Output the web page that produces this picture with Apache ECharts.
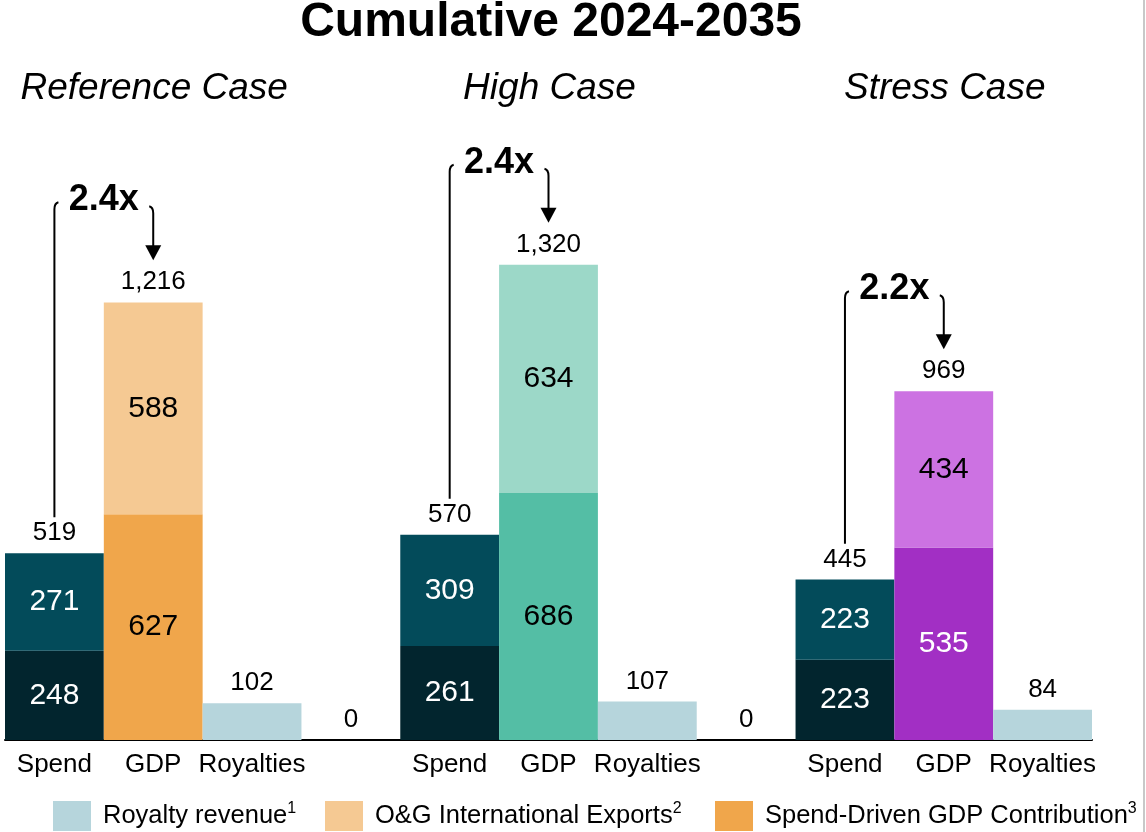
<!DOCTYPE html>
<html>
<head>
<meta charset="utf-8">
<script src="https://cdn.jsdelivr.net/npm/echarts@6/dist/echarts.min.js"></script>
<style>
  html, body { margin: 0; padding: 0; background: #fff; }
  #chart { width: 1146px; height: 832px; }
</style>
</head>
<body>
<div id="chart"></div>
<script>
// Cumulative 2024-2035 economic impact, three scenarios
const categories = ['Spend', 'GDP', 'Royalties', '', 'Spend', 'GDP', 'Royalties', '', 'Spend', 'GDP', 'Royalties'];
const caseNames = ['Reference Case', 'High Case', 'Stress Case'];
const spendBase = [248, 261, 223];
const spendUpper = [271, 309, 223];
const spendTotal = [519, 570, 445];
const gdpSpendDriven = [627, 686, 535];
const gdpExports = [588, 634, 434];
const gdpTotal = [1216, 1320, 969];
const royalties = [102, 107, 84];
const gapValues = [0, 0];
const multipliers = ['2.4x', '2.4x', '2.2x'];
const legendNames = ['Royalty revenue', 'O&G International Exports', 'Spend-Driven GDP Contribution'];
const legendNotes = ['1', '2', '3'];

const FONT = "'Liberation Sans', Arial, Helvetica, sans-serif";
const INK = '#000000';
const spendBaseColor = '#02252e';
const spendUpperColor = '#034b5a';
const royaltyColor = '#b6d5dc';
const gdpBaseColors = ['#f0a64b', '#54bea5', '#a22fc4'];
const gdpTopColors = ['#f5c993', '#9cd8c8', '#cc72e2'];
const gdpBaseLabelColors = ['#000000', '#000000', '#ffffff'];

// category slot of each bar type within case i
const spendIdx = i => 4 * i;
const gdpIdx = i => 4 * i + 1;
const royIdx = i => 4 * i + 2;
const gapIdx = [3, 7];

function emptyRow() { return categories.map(() => '-'); }
const fmt = v => Number(v).toLocaleString('en-US');

const sBase = emptyRow(), sUp = emptyRow(), gBase = emptyRow(), gTop = emptyRow(),
      roy = emptyRow(), gap = emptyRow(), totals = emptyRow();
caseNames.forEach((_, i) => {
  sBase[spendIdx(i)] = spendBase[i];
  sUp[spendIdx(i)] = spendUpper[i];
  gBase[gdpIdx(i)] = { value: gdpSpendDriven[i], itemStyle: { color: gdpBaseColors[i] }, label: { color: gdpBaseLabelColors[i] } };
  gTop[gdpIdx(i)] = { value: gdpExports[i], itemStyle: { color: gdpTopColors[i] } };
  roy[royIdx(i)] = royalties[i];
  totals[spendIdx(i)] = spendTotal[i];
  totals[gdpIdx(i)] = gdpTotal[i];
});
gapIdx.forEach((c, k) => { gap[c] = gapValues[k]; });

const insideLabel = { show: true, position: 'inside', fontFamily: FONT, fontSize: 30, color: '#ffffff' };
const topLabel = { show: true, position: 'top', distance: 7, fontFamily: FONT, fontSize: 26, color: INK, formatter: p => fmt(p.value) };

const barCommon = { type: 'bar', stack: 'v', barCategoryGap: '0%', barGap: '-100%' };

// bracket "Spend -> GDP" multipliers and case headings
const bracketData = caseNames.map((_, i) => [spendIdx(i), spendTotal[i], gdpIdx(i), gdpTotal[i]]);

function renderBracket(params, api) {
  const i = params.dataIndex;
  const ps = api.coord([api.value(0), api.value(1)]);
  const pg = api.coord([api.value(2), api.value(3)]);
  const xs = ps[0], xg = pg[0];
  const topR = pg[1] - 96;
  const topL = topR - 4;
  const bottomL = ps[1] - 36;
  const tip = pg[1] - 42;
  const head = 15;
  return {
    type: 'group',
    children: [
      {
        type: 'path',
        shape: { pathData: `M${xs},${bottomL} L${xs},${topL + 7} Q${xs},${topL + 1} ${xs + 4},${topL}` },
        style: { stroke: INK, lineWidth: 2, fill: null }
      },
      {
        type: 'path',
        shape: { pathData: `M${xg - 4},${topR} Q${xg},${topR + 1} ${xg},${topR + 7} L${xg},${tip - head + 1}` },
        style: { stroke: INK, lineWidth: 2, fill: null }
      },
      {
        type: 'polygon',
        shape: { points: [[xg - 8, tip - head], [xg + 8, tip - head], [xg, tip]] },
        style: { fill: INK }
      },
      {
        type: 'text',
        x: (xs + xg) / 2, y: topL - 2,
        style: { text: multipliers[i], fontFamily: FONT, fontSize: 36, fontWeight: 'bold', fill: INK, align: 'center', verticalAlign: 'middle' }
      },
      {
        type: 'text',
        x: xg + 1, y: 89,
        style: { text: caseNames[i], fontFamily: FONT, fontSize: 37, fontStyle: 'italic', fill: INK, align: 'center', verticalAlign: 'middle' }
      }
    ]
  };
}

function legendFor(k, left) {
  return {
    data: [legendNames[k]],
    left: left, top: 801, padding: 0,
    icon: 'rect', itemWidth: 38, itemHeight: 30,
    selectedMode: false,
    formatter: name => `${name}{sup|${legendNotes[k]}}`,
    textStyle: {
      fontFamily: FONT, fontSize: 25.5, color: INK, lineHeight: 30, padding: [0, 0, 0, 7],
      rich: { sup: { fontFamily: FONT, fontSize: 16, color: INK, lineHeight: 14, verticalAlign: 'top' } }
    }
  };
}

const chart = echarts.init(document.getElementById('chart'), null, { renderer: 'canvas' });
chart.setOption({
  backgroundColor: '#ffffff',
  animation: false,
  textStyle: { fontFamily: FONT },
  graphic: [
    { type: 'text', x: 551, y: 23, style: { text: 'Cumulative 2024-2035', fontFamily: FONT, fontSize: 48, fontWeight: 'bold', fill: INK, align: 'center', verticalAlign: 'middle' } },
    { type: 'rect', shape: { x: 1143, y: 0, width: 2, height: 832 }, style: { fill: '#c8c8c8' } }
  ],
  legend: [legendFor(0, 53), legendFor(1, 325), legendFor(2, 715)],
  grid: { left: 5, right: 54, top: 200, bottom: 92 },
  xAxis: {
    type: 'category',
    data: categories,
    axisLine: { lineStyle: { color: INK, width: 2 } },
    axisTick: { show: false },
    axisLabel: { interval: 0, fontFamily: FONT, fontSize: 26, color: INK, margin: 12 }
  },
  yAxis: { type: 'value', min: 0, max: 1500, show: false, splitLine: { show: false } },
  series: [
    Object.assign({}, barCommon, { name: 'Spend (base)', data: sBase, itemStyle: { color: spendBaseColor, borderWidth: 0 }, label: insideLabel }),
    Object.assign({}, barCommon, { name: 'Spend (upper)', data: sUp, itemStyle: { color: spendUpperColor, borderWidth: 0 }, label: insideLabel }),
    Object.assign({}, barCommon, { name: 'Spend-Driven GDP Contribution', data: gBase, itemStyle: { color: gdpBaseColors[0], borderWidth: 0 }, label: Object.assign({}, insideLabel, { color: INK }) }),
    Object.assign({}, barCommon, { name: 'O&G International Exports', data: gTop, itemStyle: { color: gdpTopColors[0], borderWidth: 0 }, label: Object.assign({}, insideLabel, { color: INK }) }),
    Object.assign({}, barCommon, { name: 'Royalty revenue', data: roy, itemStyle: { color: royaltyColor, borderWidth: 0 }, label: topLabel }),
    Object.assign({}, barCommon, { name: 'Gap', data: gap, itemStyle: { color: 'transparent' }, label: topLabel }),
    { type: 'bar', name: 'Total', data: totals, barCategoryGap: '0%', barGap: '-100%', silent: true,
      itemStyle: { color: 'rgba(0,0,0,0)' }, label: topLabel, z: 1 },
    { type: 'custom', name: 'Multiplier', data: bracketData, encode: { x: [0, 2], y: [1, 3] },
      renderItem: renderBracket, silent: true, clip: false, z: 5 }
  ]
});
</script>
</body>
</html>
